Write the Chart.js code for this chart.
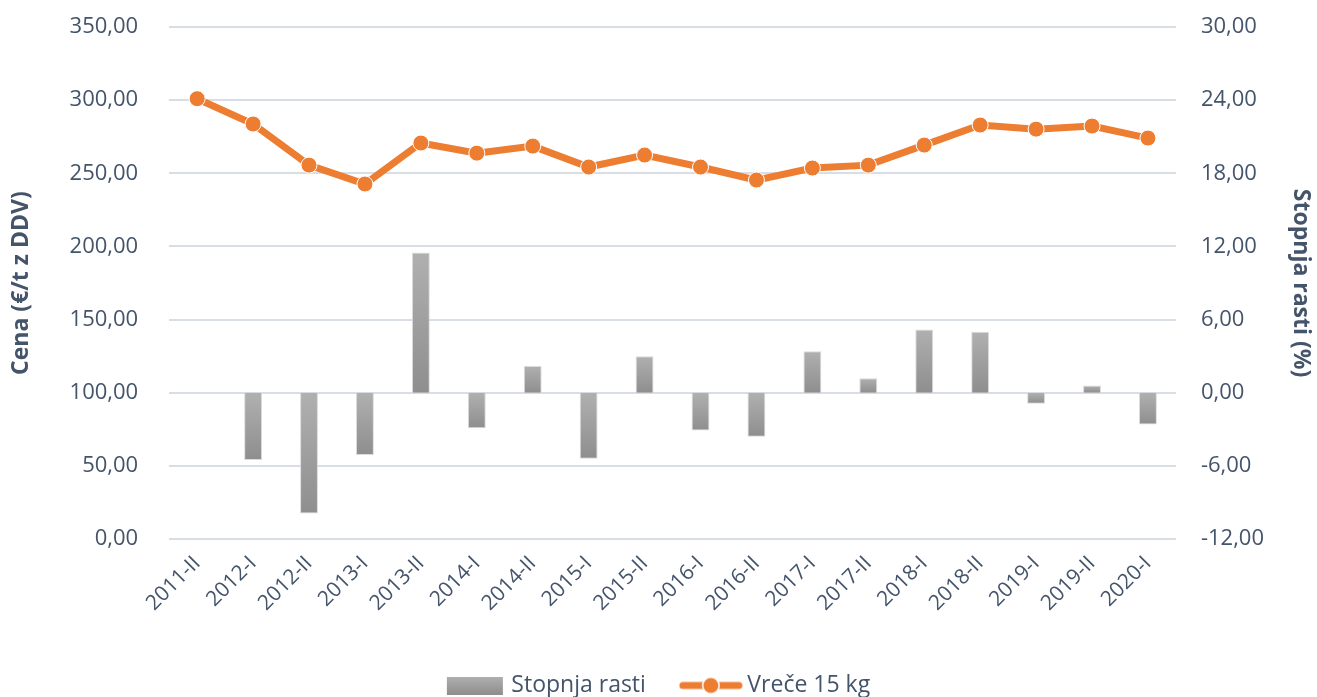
<!DOCTYPE html>
<html>
<head>
<meta charset="utf-8">
<script src="https://cdn.jsdelivr.net/npm/chart.js@4.4.1/dist/chart.umd.min.js"></script>
<style>
    html, body { margin: 0; padding: 0; background: white; }
    #wrap { width: 1317px; height: 697px; }
</style>
</head>
<body>
<div id="wrap"><canvas id="grafico"></canvas></div>
<script>
const obdobja = ['2011-II', '2012-I', '2012-II', '2013-I', '2013-II', '2014-I', '2014-II', '2015-I', '2015-II',
    '2016-I', '2016-II', '2017-I', '2017-II', '2018-I', '2018-II', '2019-I', '2019-II', '2020-I']
const cenaVrece = [301.0, 283.7, 255.6, 242.7, 270.7, 263.8, 268.6, 254.3, 262.5,
    254.3, 245.4, 253.6, 255.6, 269.3, 283.0, 280.2, 282.3, 274.1]
const stopnjaRasti = [null, -5.5, -9.9, -5.1, 11.5, -2.9, 2.2, -5.4, 3.0,
    -3.1, -3.6, 3.4, 1.2, 5.2, 5.0, -0.9, 0.6, -2.6]

const textColor = '#44546A'
const orange = '#ED7D31'
const fontFamily = "'Open Sans', 'Noto Sans', sans-serif"

function formatNum(v) {
    return v.toFixed(2).replace('.', ',')
}

// tick padding in chart.js also pads the top of the plot, undo that
function trimPadding(scale) {
    scale.paddingTop = 27
    scale.paddingBottom = 13
}

function barGradient(context) {
    const chart = context.chart
    if (!chart.chartArea) return '#A0A0A0'
    const v = context.raw
    if (v === null || v === undefined) return '#A0A0A0'
    const scale = chart.scales.y1
    const y0 = scale.getPixelForValue(0)
    const y1 = scale.getPixelForValue(v)
    const top = Math.min(y0, y1)
    const bottom = Math.max(y0, y1)
    const g = chart.ctx.createLinearGradient(0, top, 0, bottom + 0.01)
    g.addColorStop(0, '#B0B0B0')
    g.addColorStop(1, '#8E8E8E')
    return g
}

function legendBarIcon() {
    const c = document.createElement('canvas')
    c.width = 58
    c.height = 18
    const ctx = c.getContext('2d')
    const g = ctx.createLinearGradient(0, 0, 0, 18)
    g.addColorStop(0, '#B0B0B0')
    g.addColorStop(1, '#8E8E8E')
    ctx.fillStyle = g
    ctx.fillRect(1, 0, 56, 18)
    return c
}

function legendLineIcon() {
    const c = document.createElement('canvas')
    c.width = 64
    c.height = 20
    const ctx = c.getContext('2d')
    ctx.strokeStyle = orange
    ctx.lineWidth = 7
    ctx.lineCap = 'round'
    ctx.beginPath()
    ctx.moveTo(4, 10)
    ctx.lineTo(60, 10)
    ctx.stroke()
    ctx.fillStyle = 'white'
    ctx.beginPath()
    ctx.arc(32, 10, 9, 0, Math.PI * 2)
    ctx.fill()
    ctx.fillStyle = orange
    ctx.beginPath()
    ctx.arc(32, 10, 7.5, 0, Math.PI * 2)
    ctx.fill()
    return c
}

const ctx = document.getElementById('grafico').getContext('2d')
new Chart(ctx, {
    type: 'bar',
    data: {
        labels: obdobja,
        datasets: [{
            type: 'line',
            label: 'Vreče 15 kg',
            data: cenaVrece,
            yAxisID: 'y',
            borderColor: orange,
            backgroundColor: orange,
            borderWidth: 7,
            pointRadius: 8,
            pointHoverRadius: 8,
            pointBackgroundColor: orange,
            pointBorderColor: 'white',
            pointBorderWidth: 1,
            tension: 0,
            order: 0
        }, {
            type: 'bar',
            label: 'Stopnja rasti',
            data: stopnjaRasti,
            yAxisID: 'y1',
            backgroundColor: barGradient,
            borderColor: 'rgba(215, 215, 215, 0.9)',
            borderWidth: 1,
            barPercentage: 0.32,
            categoryPercentage: 1,
            order: 1
        }]
    },
    options: {
        responsive: true,
        maintainAspectRatio: false,
        animation: false,
        layout: {
            padding: { left: 8, right: 5, top: 0, bottom: -10 }
        },
        plugins: {
            legend: {
                position: 'bottom',
                labels: {
                    color: textColor,
                    font: { family: fontFamily, size: 23 },
                    usePointStyle: true,
                    pointStyleWidth: 50,
                    padding: 40,
                    generateLabels: function () {
                        return [{
                            text: 'Stopnja rasti',
                            pointStyle: legendBarIcon(),
                            fontColor: textColor,
                            datasetIndex: 1,
                            hidden: false
                        }, {
                            text: 'Vreče 15 kg',
                            pointStyle: legendLineIcon(),
                            fontColor: textColor,
                            datasetIndex: 0,
                            hidden: false
                        }]
                    }
                }
            },
            tooltip: { enabled: false }
        },
        scales: {
            x: {
                grid: { display: false },
                border: { display: false },
                afterFit: scale => { scale.height += 14 },
                ticks: {
                    color: textColor,
                    font: { family: fontFamily, size: 21 },
                    minRotation: 45,
                    maxRotation: 45,
                    padding: 4
                }
            },
            y: {
                position: 'left',
                min: 0,
                max: 350,
                border: { display: false },
                grid: { color: '#D9DEE6', lineWidth: 2, drawTicks: false },
                afterFit: trimPadding,
                ticks: {
                    stepSize: 50,
                    color: textColor,
                    font: { family: fontFamily, size: 22 },
                    padding: 31,
                    callback: v => formatNum(v)
                },
                title: {
                    display: true,
                    text: 'Cena (€/t z DDV)',
                    color: textColor,
                    font: { family: fontFamily, size: 23, weight: 'bold' },
                    padding: { top: 0, bottom: 3 }
                }
            },
            y1: {
                position: 'right',
                min: -12,
                max: 30,
                border: { display: false },
                grid: { display: false, drawTicks: false },
                afterFit: trimPadding,
                ticks: {
                    stepSize: 6,
                    color: textColor,
                    font: { family: fontFamily, size: 22 },
                    padding: 25,
                    callback: v => formatNum(v)
                },
                title: {
                    display: true,
                    text: 'Stopnja rasti (%)',
                    color: textColor,
                    font: { family: fontFamily, size: 23, weight: 'bold', lineHeight: 1 },
                    padding: { top: 0, bottom: 0 }
                }
            }
        }
    }
})
</script>
</body>
</html>
